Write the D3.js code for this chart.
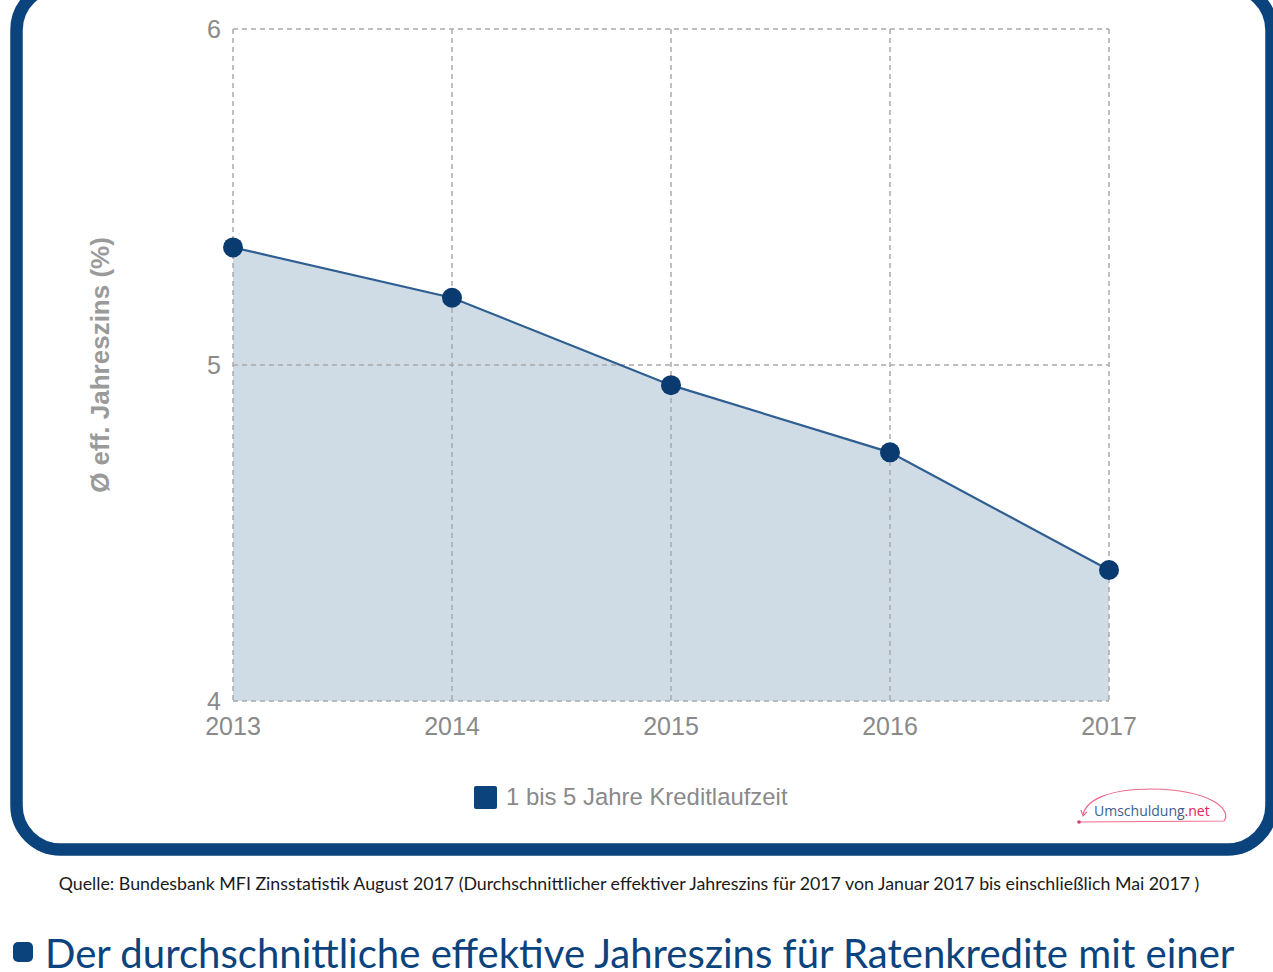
<!DOCTYPE html>
<html>
<head>
<meta charset="utf-8">
<script src="https://cdn.jsdelivr.net/npm/d3@7"></script>
<style>
  html, body { margin: 0; padding: 0; background: #fff; overflow: hidden; }
  svg { display: block; }
</style>
</head>
<body>
<div id="chart"></div>
<script>
const years = ['2013', '2014', '2015', '2016', '2017'];
const rates = [5.35, 5.2, 4.94, 4.74, 4.39];
const yTicks = [4, 5, 6];
const seriesName = '1 bis 5 Jahre Kreditlaufzeit';
const axisTitle = 'Ø eff. Jahreszins (%)';
const sourceText = 'Quelle: Bundesbank MFI Zinsstatistik August 2017 (Durchschnittlicher effektiver Jahreszins für 2017 von Januar 2017 bis einschließlich Mai 2017 )';
const headingText = 'Der durchschnittliche effektive Jahreszins für Ratenkredite mit einer';

const frameBlue = '#0b437d';
const dotBlue = '#093b70';
const lineBlue = '#2f5f92';
const areaFill = '#cfdbe5';
const gridGray = '#aaaaaa';
const textGray = '#8a8a8a';

const width = 1273, height = 972;
const plot = { left: 233, right: 1109, top: 29, bottom: 701 };

const svg = d3.select('#chart').append('svg')
  .attr('width', width)
  .attr('height', height)
  .attr('viewBox', `0 0 ${width} ${height}`);

// rounded frame around the chart
svg.append('rect')
  .attr('x', 16.5).attr('y', -14)
  .attr('width', 1255).attr('height', 863.5)
  .attr('rx', 44).attr('ry', 44)
  .attr('fill', '#fff')
  .attr('stroke', frameBlue)
  .attr('stroke-width', 12.5);

const x = d3.scalePoint().domain(years).range([plot.left, plot.right]);
const y = d3.scaleLinear().domain([4, 6]).range([plot.bottom, plot.top]);

const data = years.map((yr, i) => ({ year: yr, value: rates[i] }));

// area under the line
svg.append('path')
  .datum(data)
  .attr('fill', areaFill)
  .attr('d', d3.area().x(d => x(d.year)).y0(y(4)).y1(d => y(d.value)));

// grid: horizontal
svg.append('g')
  .selectAll('line').data(yTicks).enter()
  .append('line')
  .attr('x1', plot.left).attr('x2', plot.right)
  .attr('y1', d => y(d)).attr('y2', d => y(d))
  .attr('stroke', gridGray).attr('stroke-width', 1.5)
  .attr('stroke-dasharray', '5,4');

// grid: vertical
svg.append('g')
  .selectAll('line').data(years).enter()
  .append('line')
  .attr('x1', d => x(d)).attr('x2', d => x(d))
  .attr('y1', plot.top).attr('y2', plot.bottom)
  .attr('stroke', gridGray).attr('stroke-width', 1.5)
  .attr('stroke-dasharray', '5,4');

// y tick labels
svg.append('g')
  .selectAll('text').data(yTicks).enter()
  .append('text')
  .attr('x', 221)
  .attr('y', d => y(d))
  .attr('dy', '0.35em')
  .attr('text-anchor', 'end')
  .attr('font-family', 'Liberation Sans, Arial, sans-serif')
  .attr('font-size', 25)
  .attr('fill', textGray)
  .text(d => d);

// x tick labels
svg.append('g')
  .selectAll('text').data(years).enter()
  .append('text')
  .attr('x', d => x(d))
  .attr('y', 735)
  .attr('text-anchor', 'middle')
  .attr('font-family', 'Liberation Sans, Arial, sans-serif')
  .attr('font-size', 25)
  .attr('fill', textGray)
  .text(d => d);

// y axis title
svg.append('text')
  .attr('transform', 'translate(109,365) rotate(-90)')
  .attr('text-anchor', 'middle')
  .attr('font-family', 'Liberation Sans, Arial, sans-serif')
  .attr('font-weight', 'bold')
  .attr('font-size', 26)
  .attr('fill', '#9a9a9a')
  .text(axisTitle);

// line
svg.append('path')
  .datum(data)
  .attr('fill', 'none')
  .attr('stroke', lineBlue)
  .attr('stroke-width', 2.2)
  .attr('d', d3.line().x(d => x(d.year)).y(d => y(d.value)));

// dots
svg.append('g')
  .selectAll('circle').data(data).enter()
  .append('circle')
  .attr('cx', d => x(d.year))
  .attr('cy', d => y(d.value))
  .attr('r', 10)
  .attr('fill', dotBlue);

// legend
const legend = svg.append('g').attr('transform', 'translate(474,786)');
legend.append('rect')
  .attr('width', 23).attr('height', 23).attr('rx', 2)
  .attr('fill', frameBlue);
legend.append('text')
  .attr('x', 32).attr('y', 19)
  .attr('font-family', 'Liberation Sans, Arial, sans-serif')
  .attr('font-size', 23.9)
  .attr('fill', textGray)
  .text(seriesName);

// logo
const logo = svg.append('g');
logo.append('path')
  .attr('d', 'M1079,822 L1224,821 C1232,810 1212,790 1152,789 C1108,789 1086,800 1083,815')
  .attr('fill', 'none')
  .attr('stroke', '#ec6a8c')
  .attr('stroke-width', 1.2);
logo.append('circle').attr('cx', 1079).attr('cy', 822).attr('r', 1.8).attr('fill', '#e8346a');
logo.append('path')
  .attr('d', 'M1081,810 L1083,816 L1087,812')
  .attr('fill', 'none').attr('stroke', '#ec6a8c').attr('stroke-width', 1.2);
const logoText = logo.append('text')
  .attr('x', 1094).attr('y', 816)
  .attr('font-family', 'Open Sans, sans-serif')
  .attr('font-size', 14)
  .attr('fill', '#3a5f8f');
logoText.append('tspan').text('Umschuldung');
logoText.append('tspan').attr('fill', '#e0245e').text('.net');

// source caption
svg.append('text')
  .attr('x', 629).attr('y', 890)
  .attr('text-anchor', 'middle')
  .attr('font-family', 'Lato, sans-serif')
  .attr('font-size', 17.8)
  .attr('fill', '#1a1a1a')
  .text(sourceText);

// heading with bullet
svg.append('rect')
  .attr('x', 13).attr('y', 942)
  .attr('width', 20).attr('height', 20).attr('rx', 5)
  .attr('fill', frameBlue);
svg.append('text')
  .attr('x', 45).attr('y', 968)
  .attr('font-family', 'Lato, sans-serif')
  .attr('font-size', 40.1)
  .attr('fill', frameBlue)
  .text(headingText);
</script>
</body>
</html>
